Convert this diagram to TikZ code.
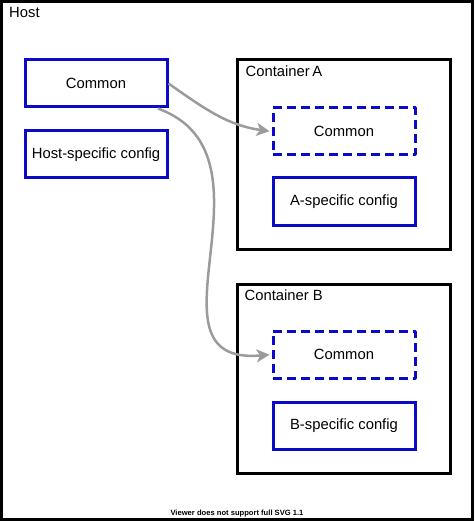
\documentclass[tikz,border=0pt]{standalone}
\usepackage{fontspec}
\setmainfont{Liberation Sans}
\usepackage{tikz}
\usepackage{xcolor}
\usetikzlibrary{arrows.meta}
\definecolor{cfgblue}{RGB}{10,10,200}
\definecolor{linkgray}{RGB}{155,155,155}
\tikzset{
    config-box/.style = {draw=cfgblue, fill=white, line width=3pt, rectangle, minimum width=142pt, minimum height=47pt, inner sep=0pt, font=\fontsize{14.8}{17}\selectfont},
    shared-box/.style = {config-box, dash pattern=on 9pt off 5pt, line join=round},
    container-box/.style = {draw=black, line width=3pt, rectangle, minimum width=213pt, minimum height=189pt, inner sep=0pt},
    box-title/.style = {anchor=north west, inner sep=0pt, font=\fontsize{14.8}{17}\selectfont},
    link-arrow/.style = {draw=linkgray, line width=2.5pt, -{Stealth[length=13pt,width=13pt,inset=3.5pt]}, shorten >=2pt},
}

\begin{document}
\begin{tikzpicture}[x=1pt,y=1pt]
\useasboundingbox (0,0) rectangle (474,-521);
% host frame
\draw[line width=3pt] (1.5,-1.5) rectangle (472,-519);
\node[box-title] (host) at (9,-6.7) {Host};

% host side
\node[config-box] (cmn) at (96,-83.5) {Common};
\node[config-box] (hostcfg) at (96,-154.5) {Host-specific config};

% container A
\node[container-box] (ctA) at (343.5,-154.5) {};
\node[box-title] (ctA-title) at ([shift={(10,-6.7)}]ctA.north west) {Container\,A};
\node[shared-box] (cmnA) at (344,-131.5) {Common};
\node[config-box] (cfgA) at (344,-201.5) {A-specific config};

% container B
\node[container-box] (ctB) at (343.5,-378.5) {};
\node[box-title] (ctB-title) at ([shift={(9,-6.7)}]ctB.north west) {Container B};
\node[shared-box] (cmnB) at (344,-354.5) {Common};
\node[config-box] (cfgB) at (344,-425.5) {B-specific config};

% shared config links
\draw[link-arrow] (cmn.east) to[out=-35,in=172] (cmnA.west);
\draw[link-arrow] (cmn.-22) to[out=-20,in=185,looseness=1.3] (cmnB.west);

\node[font=\fontsize{7.6}{9}\selectfont\bfseries] (note) at (237,-513.5) {Viewer does not support full SVG 1.1};
\end{tikzpicture}
\end{document}
